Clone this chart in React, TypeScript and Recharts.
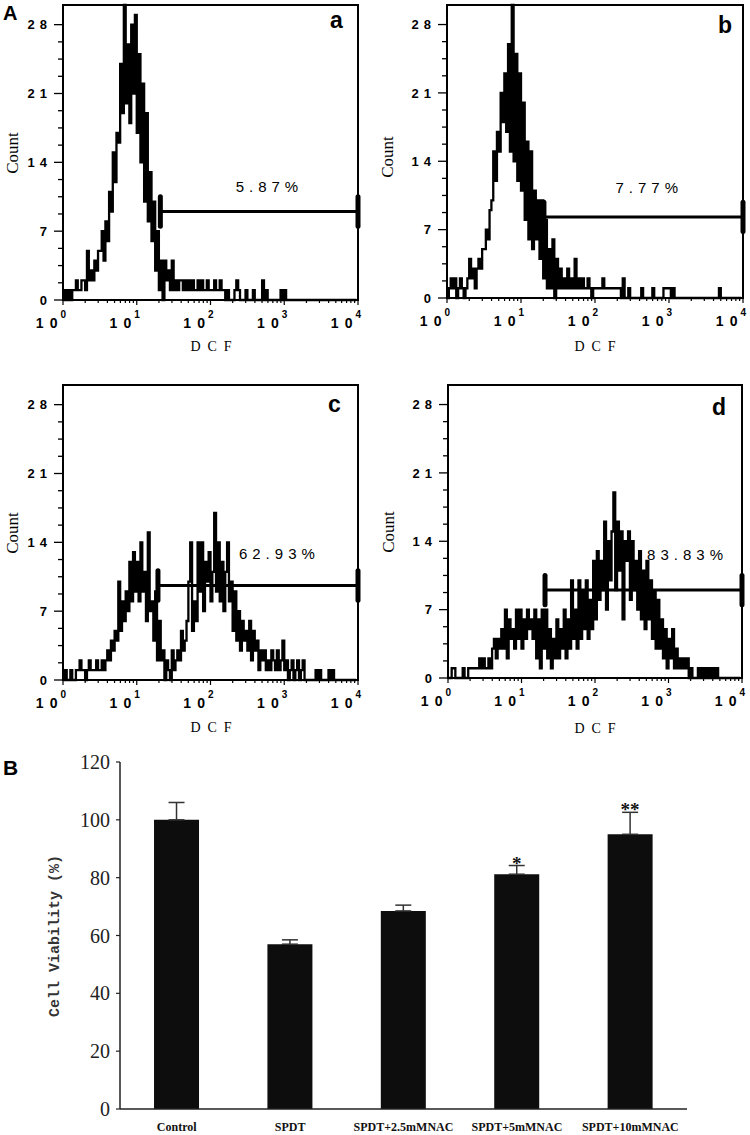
import React from "react";
import {
  LineChart,
  Line,
  XAxis,
  YAxis,
  ReferenceArea,
  ReferenceLine,
  ReferenceDot,
  BarChart,
  Bar,
  ErrorBar,
  LabelList,
} from "recharts";

const SANS = "'Liberation Sans', Arial, sans-serif";
const SERIF = "'Liberation Serif', 'Times New Roman', serif";
const MONO = "'Liberation Mono', 'DejaVu Sans Mono', monospace";

// DCF histograms, counts per channel, 40 channels per decade (10^0 .. 10^4)
const countsA = [
  0, 1, 0, 1, 0, 1, 1, 2, 1, 1,
  2, 2, 1, 5, 2, 3, 2, 4, 3, 5,
  5, 7, 4, 8, 6, 11, 9, 15, 12, 17,
  16, 24, 19, 30, 20, 26, 18, 28, 21, 29,
  17, 25, 14, 22, 10, 19, 8, 13, 6, 10,
  3, 7, 1, 4, 0, 4, 2, 3, 1, 4,
  1, 2, 1, 2, 2, 1, 2, 1, 2, 1,
  2, 1, 1, 2, 1, 2, 1, 1, 2, 1,
  1, 1, 2, 1, 1, 2, 1, 1, 0, 1,
  0, 0, 0, 1, 2, 1, 0, 0, 0, 1,
  0, 0, 0, 1, 0, 0, 0, 0, 2, 0,
  1, 0, 0, 0, 0, 0, 0, 0, 1, 0,
  1, 0, 0, 0, 0, 0, 0, 0, 0, 0,
  0, 0, 0, 0, 0, 0, 0, 0, 0, 0,
  0, 0, 0, 0, 0, 0, 0, 0, 0, 0,
  0, 0, 0, 0, 0, 0, 0, 0, 0, 0,
];
const countsB = [
  0, 1, 2, 1, 2, 0, 1, 2, 1, 0,
  1, 2, 4, 2, 3, 1, 3, 4, 3, 5,
  5, 7, 6, 9, 10, 15, 12, 17, 15, 21,
  18, 23, 17, 26, 15, 30, 14, 25, 12, 23,
  11, 20, 8, 16, 6, 15, 5, 11, 6, 10,
  4, 10, 2, 8, 1, 5, 1, 6, 0, 4,
  1, 3, 1, 2, 1, 3, 1, 2, 1, 4,
  1, 2, 1, 2, 1, 1, 2, 1, 0, 1,
  1, 1, 1, 1, 2, 1, 1, 1, 1, 1,
  1, 1, 1, 1, 0, 2, 0, 0, 1, 0,
  0, 0, 0, 0, 0, 1, 0, 0, 0, 0,
  0, 1, 0, 0, 0, 0, 0, 1, 1, 1,
  1, 0, 1, 0, 0, 0, 0, 0, 0, 0,
  0, 0, 0, 0, 0, 0, 0, 0, 0, 0,
  0, 0, 0, 0, 0, 0, 0, 1, 0, 0,
  0, 0, 0, 0, 0, 0, 0, 0, 0, 0,
];
const countsC = [
  0, 1, 0, 0, 1, 0, 0, 1, 1, 2,
  1, 1, 0, 1, 2, 1, 1, 1, 2, 1,
  1, 2, 1, 2, 3, 2, 4, 3, 5, 4,
  10, 5, 8, 6, 9, 7, 12, 8, 13, 9,
  12, 8, 14, 9, 11, 6, 15, 7, 8, 4,
  9, 2, 6, 2, 3, 0, 2, 1, 0, 3,
  1, 2, 3, 2, 5, 3, 4, 6, 10, 14,
  5, 8, 6, 14, 9, 14, 7, 12, 10, 13,
  8, 11, 17, 9, 14, 8, 12, 7, 11, 14,
  8, 10, 5, 9, 4, 7, 3, 6, 4, 5,
  3, 6, 2, 5, 3, 4, 1, 3, 2, 3,
  1, 2, 1, 3, 2, 1, 3, 1, 2, 4,
  1, 2, 0, 1, 2, 0, 1, 2, 0, 1,
  2, 0, 0, 0, 0, 0, 0, 1, 0, 1,
  0, 0, 0, 0, 1, 0, 1, 0, 0, 0,
  0, 0, 0, 0, 0, 0, 0, 0, 0, 0,
];
const countsD = [
  0, 0, 1, 1, 0, 0, 0, 0, 1, 0,
  0, 1, 1, 1, 1, 1, 1, 2, 1, 2,
  1, 1, 2, 1, 3, 4, 2, 4, 3, 5,
  3, 7, 2, 6, 4, 5, 3, 7, 4, 7,
  3, 6, 4, 7, 5, 6, 4, 7, 2, 6,
  1, 7, 3, 7, 2, 5, 1, 4, 2, 6,
  2, 5, 3, 7, 2, 6, 3, 10, 4, 7,
  3, 10, 4, 9, 5, 10, 4, 8, 5, 12,
  6, 13, 8, 12, 9, 16, 7, 14, 10, 15,
  19, 9, 16, 11, 15, 6, 14, 12, 15, 8,
  14, 9, 12, 7, 13, 6, 11, 5, 12, 6,
  10, 4, 9, 3, 8, 3, 6, 2, 5, 1,
  4, 2, 5, 1, 3, 1, 2, 1, 2, 1,
  2, 0, 1, 0, 0, 0, 1, 0, 1, 0,
  1, 0, 1, 0, 1, 0, 1, 0, 0, 0,
  0, 0, 0, 0, 0, 0, 0, 0, 0, 0,
];

// M1 gate per panel
const panelNames = ["a", "b", "c", "d"];
const gateStart = [52.8, 52.4, 51.5, 52.8];
const gateLevel = [9.0, 8.3, 9.6, 9.0];
const gatePercent = ["5.87%", "7.77%", "62.93%", "83.83%"];
const gateLabelChannel = [110.6, 108, 116, 129];
const gateLabelCount = [11.5, 11.3, 12.9, 12.6];

const countTicks = [0, 1.75, 3.5, 5.25, 7, 8.75, 10.5, 12.25, 14, 15.75, 17.5, 19.25, 21, 22.75, 24.5, 26.25, 28];
const decadeChannels = [0, 40, 80, 120, 160];
const decadeExponents = ["0", "1", "2", "3", "4"];
const minorMultipliers = [2, 3, 4, 5, 6, 7, 8, 9];

// cell viability (%)
const groups = ["Control", "SPDT", "SPDT+2.5mMNAC", "SPDT+5mMNAC", "SPDT+10mMNAC"];
const viability = [100, 57, 68.5, 81.2, 95];
const viabilitySd = [6, 1.5, 2, 3, 7.6];
const significance = ["", "", "", "*", "**"];
const viabilityTicks = [0, 20, 40, 60, 80, 100, 120];

const minorChannels = decadeChannels
  .slice(0, 4)
  .flatMap((c) => minorMultipliers.map((m) => c + 40 * Math.log10(m)));
const xTicks = [...decadeChannels, ...minorChannels].sort((p, q) => p - q);

const layout = [
  { counts: countsA, left: 0, top: 0, box: { l: 63, r: 358, t: 5, b: 300 } },
  { counts: countsB, left: 375, top: 0, box: { l: 72, r: 368, t: 5, b: 298 } },
  { counts: countsC, left: 0, top: 380, box: { l: 63, r: 358, t: 5, b: 300 } },
  { counts: countsD, left: 375, top: 380, box: { l: 73, r: 367, t: 5, b: 298 } },
];

const CountTick = (p: any) => {
  const v = p.payload.value;
  const major = v % 7 === 0;
  return (
    <g>
      <line x1={p.x - (major ? 9 : 5)} x2={p.x} y1={p.y} y2={p.y} stroke="#000" strokeWidth={1.3} />
      {major && (
        <text x={p.x - 11} y={p.y} dy="0.36em" textAnchor="end" fontFamily={SANS} fontSize={13}
          fontWeight="bold" letterSpacing={5} fill="#000">
          {String(v)}
        </text>
      )}
    </g>
  );
};

const DecadeTick = (p: any) => {
  const v = p.payload.value;
  const k = decadeChannels.indexOf(v);
  const major = k >= 0;
  return (
    <g>
      <line x1={p.x} x2={p.x} y1={p.y} y2={p.y + (major ? 5 : 3)} stroke="#000" strokeWidth={1.2} />
      {major && (
        <text x={p.x + 3} y={p.y + 28} textAnchor="end" fontFamily={SANS} fontSize={14}
          fontWeight="bold" fill="#000">
          <tspan letterSpacing={6}>1</tspan>
          <tspan>0</tspan>
          <tspan dx={3} dy={-10} fontSize={10}>{decadeExponents[k]}</tspan>
        </text>
      )}
    </g>
  );
};

function Histogram({ idx }: { idx: number }) {
  const { counts, box } = layout[idx];
  const W = 375;
  const H = 370;
  const data = counts.map((n, ch) => ({ ch, n }));
  const g0 = gateStart[idx];
  const lvl = gateLevel[idx];
  return (
    <LineChart
      width={W}
      height={H}
      data={data}
      margin={{ top: box.t, right: W - box.r, left: box.l - 50, bottom: H - box.b - 50 }}
    >
      <XAxis dataKey="ch" type="number" domain={[0, 160]} ticks={xTicks} interval={0}
        tickSize={0} tickMargin={0} axisLine={false} tickLine={false} height={50}
        tick={(p: any) => <DecadeTick {...p} />} />
      <YAxis type="number" domain={[0, 30]} ticks={countTicks} interval={0} width={50}
        tickSize={0} tickMargin={0} axisLine={false} tickLine={false}
        tick={(p: any) => <CountTick {...p} />} />
      <ReferenceArea x1={0} x2={160} y1={0} y2={30} fill="none" stroke="#000" strokeWidth={2} />
      <Line type="stepAfter" dataKey="n" stroke="#000" strokeWidth={2.3} dot={false}
        isAnimationActive={false} />
      <ReferenceLine segment={[{ x: g0, y: lvl }, { x: 160, y: lvl }]} stroke="#000" strokeWidth={3} />
      <ReferenceLine segment={[{ x: g0, y: lvl - 1.5 }, { x: g0, y: lvl + 1.5 }]} stroke="#000"
        strokeWidth={5} strokeLinecap="round" />
      <ReferenceLine segment={[{ x: 160, y: lvl - 1.5 }, { x: 160, y: lvl + 1.5 }]} stroke="#000"
        strokeWidth={5} strokeLinecap="round" />
      <ReferenceDot x={gateLabelChannel[idx]} y={gateLabelCount[idx]} r={1}
        shape={(p: any) => (
          <text x={p.cx + 2.5} y={p.cy} dy="0.36em" textAnchor="middle" fontFamily={SANS}
            fontSize={15} letterSpacing={5} fill="#000">
            {gatePercent[idx]}
          </text>
        )} />
    </LineChart>
  );
}

const barData = groups.map((g, i) => ({
  group: g,
  value: viability[i],
  sd: [0, viabilitySd[i]],
  mark: significance[i],
}));

const StarLabel = (p: any) => {
  const i = p.index;
  const mark = significance[i];
  if (!mark) return null;
  const vb = p.viewBox || p;
  const perUnit = vb.height / viability[i];
  const errTop = vb.y - viabilitySd[i] * perUnit;
  return (
    <text x={vb.x + vb.width / 2} y={errTop + 4} textAnchor="middle" fontFamily={SERIF}
      fontSize={19} fontWeight="bold" fill="#111">
      {mark}
    </text>
  );
};

const GroupTick = (p: any) => (
  <text x={p.x} y={p.y + 22} textAnchor="middle" fontFamily={SERIF} fontSize={12}
    fontWeight="bold" fill="#111">
    {p.payload.value}
  </text>
);

const countLabels = [
  [12, 153],
  [387, 157],
  [12, 533],
  [388, 532],
];
const dcfLabels = [
  [211, 351],
  [595, 351],
  [211, 732],
  [595, 733],
];
const letterPos = [
  [330, 28],
  [718, 33],
  [328, 412],
  [712, 415],
];

export default function App() {
  return (
    <div style={{ position: "absolute", left: 0, top: 0, width: 750, height: 1135, background: "#fff" }}>
      {layout.map((p, i) => (
        <div key={i} style={{ position: "absolute", left: p.left, top: p.top }}>
          <Histogram idx={i} />
        </div>
      ))}
      <div style={{ position: "absolute", left: 0, top: 740 }}>
        <BarChart width={750} height={395} data={barData}
          margin={{ top: 22, right: 63, left: 60, bottom: 10 }} barCategoryGap="30%">
          <XAxis dataKey="group" height={16} interval={0} tickSize={0} tickMargin={0} tickLine={false}
            axisLine={{ stroke: "#222", strokeWidth: 1.5 }} tick={(p: any) => <GroupTick {...p} />} />
          <YAxis type="number" domain={[0, 120]} ticks={viabilityTicks} interval={0} width={60}
            tickSize={4} tickMargin={6} axisLine={{ stroke: "#222", strokeWidth: 1.5 }}
            tickLine={{ stroke: "#222", strokeWidth: 1.2 }}
            tick={{ fontFamily: SERIF, fontSize: 20, fill: "#222" }} />
          <Bar dataKey="value" fill="#0d0d0d" isAnimationActive={false}>
            <ErrorBar dataKey="sd" width={8} stroke="#333" strokeWidth={1.5} direction="y" />
            <LabelList dataKey="mark" content={(p: any) => <StarLabel {...p} />} />
          </Bar>
        </BarChart>
      </div>
      <svg width={750} height={1135} style={{ position: "absolute", left: 0, top: 0, pointerEvents: "none" }}>
        <text x={3} y={20} fontFamily={SANS} fontSize={20} fontWeight="bold" fill="#000">A</text>
        <text x={3} y={775} fontFamily={SANS} fontSize={21} fontWeight="bold" fill="#000">B</text>
        {panelNames.map((n, i) => (
          <text key={n} x={letterPos[i][0]} y={letterPos[i][1]} fontFamily={SANS} fontSize={23}
            fontWeight="bold" fill="#000">
            {n}
          </text>
        ))}
        {countLabels.map(([x, y], i) => (
          <text key={"c" + i} x={x} y={y} transform={`rotate(-90 ${x} ${y})`} textAnchor="middle"
            dominantBaseline="central" fontFamily={SERIF} fontSize={17} fill="#000">
            Count
          </text>
        ))}
        {dcfLabels.map(([x, y], i) => (
          <text key={"d" + i} x={x + 3.5} y={y} textAnchor="middle" fontFamily={SERIF} fontSize={14}
            letterSpacing={7} fill="#000">
            DCF
          </text>
        ))}
        <text x={55} y={936} transform="rotate(-90 55 936)" textAnchor="middle" dominantBaseline="central"
          fontFamily={MONO} fontSize={15} fontWeight="bold" fill="#333">
          Cell Viability (%)
        </text>
      </svg>
    </div>
  );
}
